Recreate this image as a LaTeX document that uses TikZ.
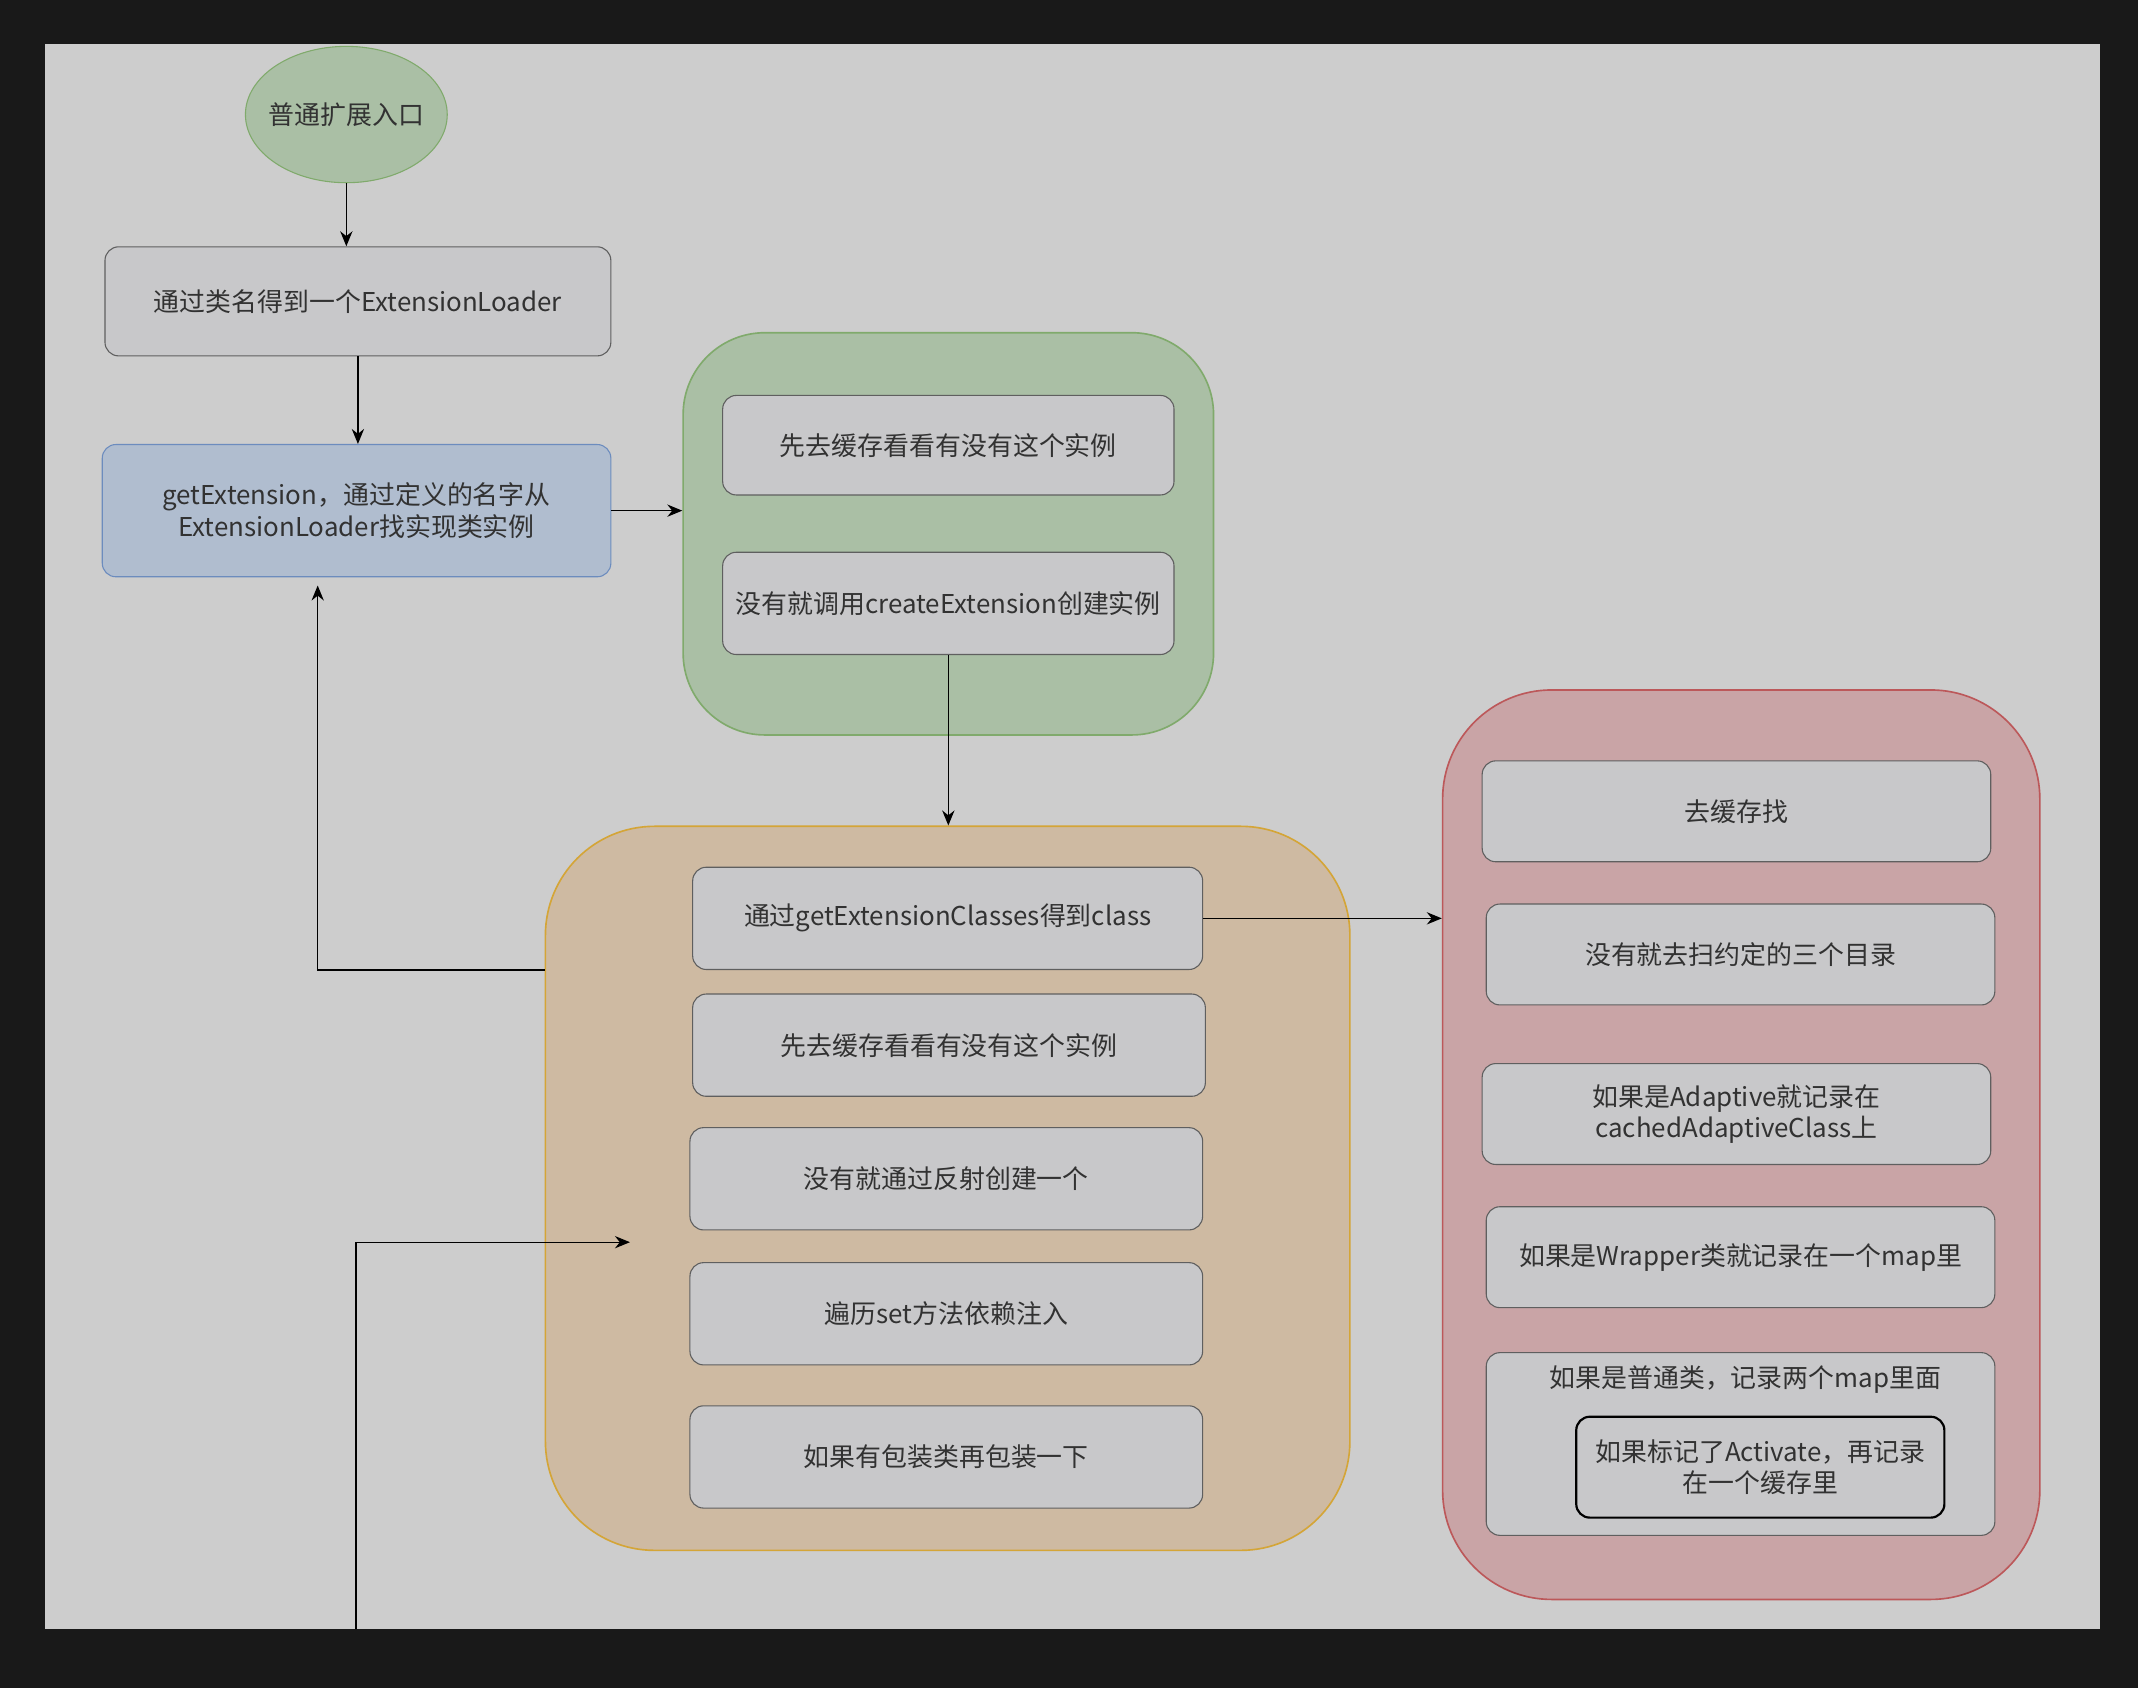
\documentclass[tikz,border=0pt]{standalone}
\usepackage{fontspec}
\newfontfamily\cjk{Noto Sans CJK SC}
\usetikzlibrary{arrows.meta, positioning, calc, shapes.geometric}
\definecolor{screen}{RGB}{25,25,25}
\definecolor{canvas}{RGB}{205,205,205}
\definecolor{cellfill}{RGB}{200,200,202}
\definecolor{cellline}{RGB}{95,95,95}
\definecolor{txt}{RGB}{50,50,50}
\definecolor{greenfill}{RGB}{170,191,165}
\definecolor{greenline}{RGB}{128,170,108}
\definecolor{bluefill}{RGB}{176,189,207}
\definecolor{blueline}{RGB}{108,140,190}
\definecolor{tanfill}{RGB}{206,186,162}
\definecolor{tanline}{RGB}{212,165,55}
\definecolor{redfill}{RGB}{201,164,166}
\definecolor{redline}{RGB}{188,88,90}
\tikzset{
  cell/.style={draw=cellline, fill=cellfill, rounded corners=5pt, text=txt,
    align=center, font=\cjk\fontsize{9.5}{11.5}\selectfont, inner sep=2pt},
  pool/.style={draw, rounded corners=40pt, line width=0.6pt},
  flow/.style={-{Stealth[length=5.5pt,width=4.5pt]}, line width=0.5pt}
}
\begin{document}
\begin{tikzpicture}[x=0.5pt,y=-0.5pt]
  \fill[screen] (0,0) rectangle (1568,1238);
  \fill[canvas] (33,32) rectangle (1540,1195);
  \useasboundingbox (0,0) rectangle (1568,1238);

  % entry and first two steps
  \node[ellipse, draw=greenline, fill=greenfill, text=txt, inner xsep=-2.5pt, inner ysep=0pt,
    minimum width=74pt, minimum height=50pt, font=\cjk\fontsize{9.5}{11.5}\selectfont] (entry) at (254,84) {普通扩展入口};
  \node[cell, minimum width=185.5pt, minimum height=40pt] (ld) at (262.5,221) {通过类名得到一个ExtensionLoader};
  \node[cell, draw=blueline, fill=bluefill, minimum width=186.5pt, minimum height=48.5pt] (gx) at (261.5,374.5)
    {getExtension，通过定义的名字从\\ExtensionLoader找实现类实例};

  % green group
  \node[pool, draw=greenline, fill=greenfill, rounded corners=30pt, minimum width=194.5pt, minimum height=147.5pt] (grn) at (695.5,391.5) {};
  \node[cell, minimum width=165.5pt, minimum height=36.5pt] (g1) at (695.5,326.5) {先去缓存看看有没有这个实例};
  \node[cell, minimum width=165.5pt, minimum height=37.5pt] (g2) at (695.5,442.5) {没有就调用createExtension创建实例};

  % orange group
  \node[pool, draw=tanline, fill=tanfill, minimum width=295pt, minimum height=265.5pt] (org) at (695,871.5) {};
  \node[cell, minimum width=187pt, minimum height=37.5pt] (o1) at (695,673.5) {通过getExtensionClasses得到class};
  \node[cell, minimum width=188pt, minimum height=37.5pt] (o2) at (696,766.5) {先去缓存看看有没有这个实例};
  \node[cell, minimum width=188pt, minimum height=37.5pt] (o3) at (694,864.5) {没有就通过反射创建一个};
  \node[cell, minimum width=188pt, minimum height=37.5pt] (o4) at (694,963.5) {遍历set方法依赖注入};
  \node[cell, minimum width=188pt, minimum height=37.5pt] (o5) at (694,1068.5) {如果有包装类再包装一下};

  % red group
  \node[pool, draw=redline, fill=redfill, minimum width=219pt, minimum height=333.5pt] (red) at (1277,839.5) {};
  \node[cell, minimum width=186.5pt, minimum height=37pt] (r1) at (1273.5,595) {去缓存找};
  \node[cell, minimum width=186.5pt, minimum height=37pt] (r2) at (1276.5,700) {没有就去扫约定的三个目录};
  \node[cell, minimum width=186.5pt, minimum height=37pt] (r3) at (1273.5,817) {如果是Adaptive就记录在\\cachedAdaptiveClass上};
  \node[cell, minimum width=186.5pt, minimum height=37pt] (r4) at (1276.5,922) {如果是Wrapper类就记录在一个map里};
  \node[cell, minimum width=186.5pt, minimum height=67pt] (r5) at (1276.5,1059) {};
  \node[text=txt, font=\cjk\fontsize{9.5}{11.5}\selectfont] (r5t) at (1280,1012) {如果是普通类，记录两个map里面};
  \node[cell, draw=black, line width=0.8pt, minimum width=135pt, minimum height=37pt] (r6) at (1291,1076)
    {如果标记了Activate，再记录\\在一个缓存里};

  % connectors
  \coordinate (back) at (org.west |- o1.south);
  \coordinate (in) at (261,1195);
  \coordinate (tip) at (462,911);
  \draw[flow] (entry.south) -- (entry.south |- ld.north);
  \draw[flow] (ld.south) -- (ld.south |- gx.north);
  \draw[flow] (gx.east) -- (gx.east -| grn.west);
  \draw[flow] (g2.south) -- (g2.south |- org.north);
  \draw[flow] (back) -| ([xshift=-14.25pt,yshift=-3pt]gx.south);
  \draw[flow] (in) |- (tip);
  \draw[flow] (o1.east) -- (o1.east -| red.west);
\end{tikzpicture}
\end{document}
